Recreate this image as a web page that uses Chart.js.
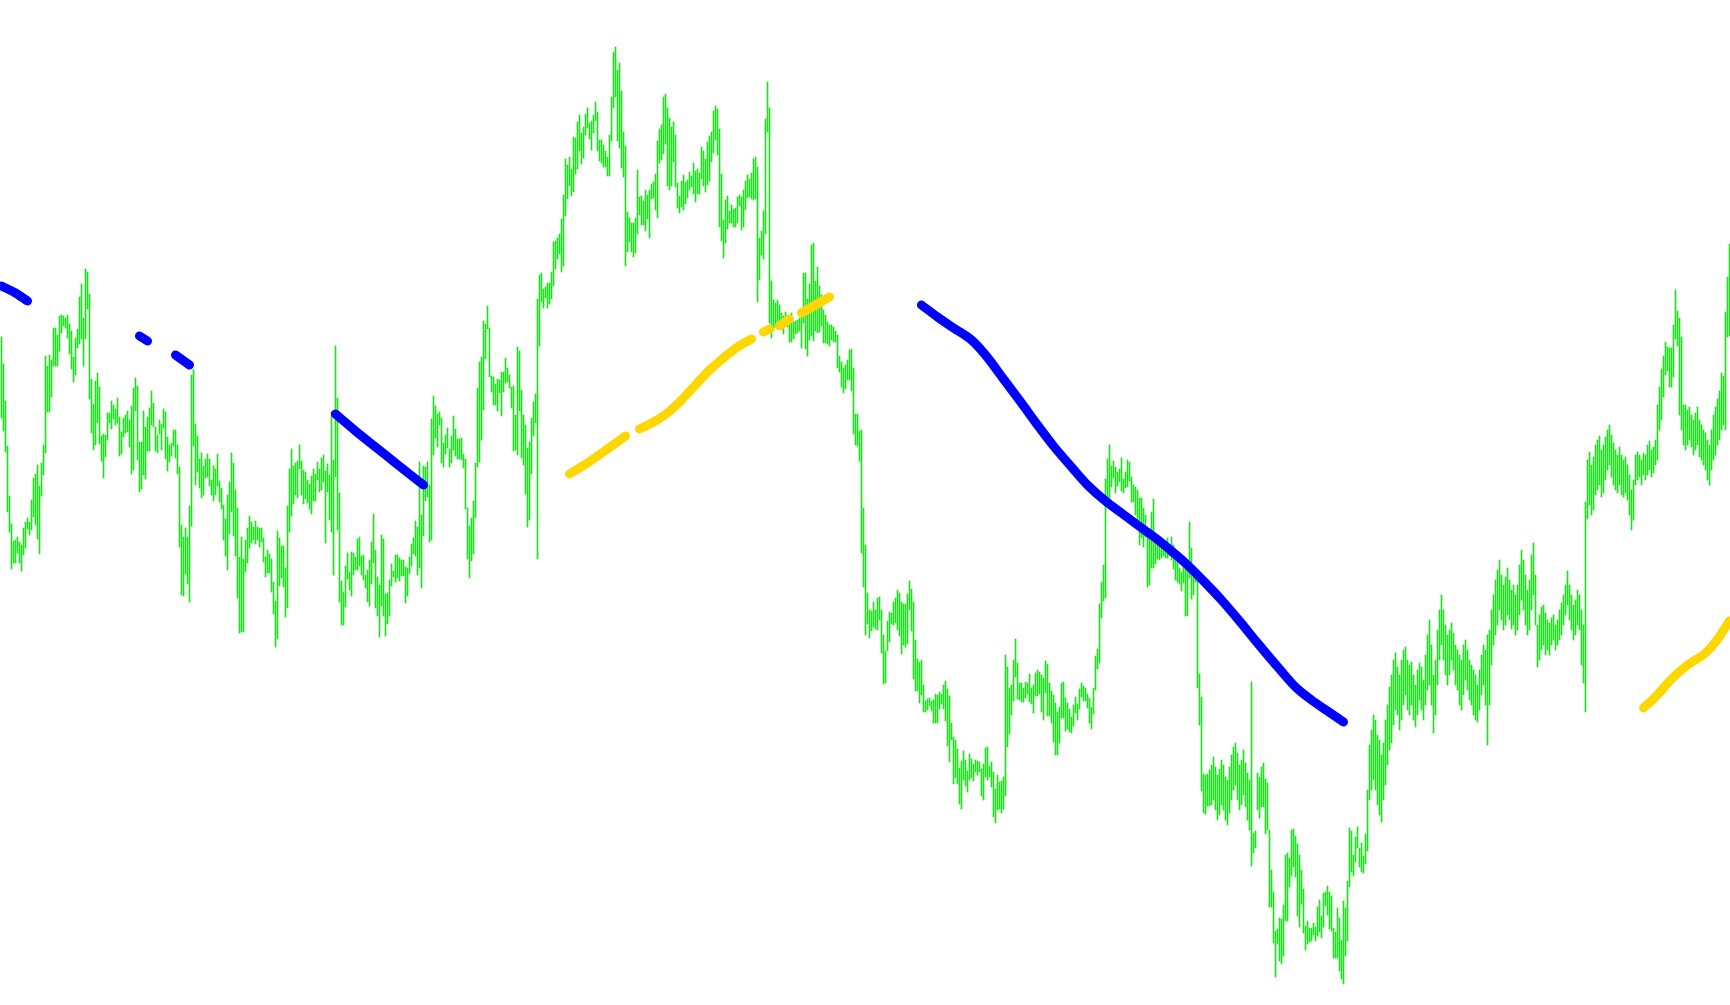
<!DOCTYPE html>
<html>
<head>
<meta charset="utf-8">
<title>chart</title>
<script src="https://cdn.jsdelivr.net/npm/chart.js@4"></script>
<style>
  html, body { margin: 0; padding: 0; background: #ffffff; overflow: hidden; }
  #caja { width: 1730px; height: 1005px; position: relative; }
</style>
</head>
<body>
<div id="caja"><canvas id="grafico"></canvas></div>
<script>
(function(){

//-----Rango de cada barra [minimo, maximo], una por vela
const barRanges = [
[587,668],[574,641],[553,604],[493,559],[473,509],[436,481],[442,464],[442,465],[452,468],[442,463],
[434,460],[450,477],[457,483],[476,487],[470,483],[475,505],[488,527],[480,531],[466,540],[451,519],
[509,542],[530,560],[552,649],[593,639],[593,650],[608,645],[639,677],[639,677],[639,670],[654,689],
[672,690],[679,689],[677,687],[667,690],[651,681],[636,674],[623,648],[630,667],[657,676],[661,708],
[666,721],[639,687],[666,736],[696,733],[606,711],[572,626],[555,601],[560,624],[582,632],[561,618],
[544,569],[527,571],[548,570],[565,592],[582,592],[576,604],[586,600],[580,596],[582,607],[549,588],
[551,573],[568,587],[572,590],[573,594],[558,585],[531,599],[535,617],[594,627],[545,619],[513,563],
[516,563],[530,594],[526,578],[554,588],[554,597],[580,614],[578,602],[554,578],[552,570],[571,585],
[555,581],[577,596],[546,593],[534,568],[543,560],[549,562],
[559,575],[547,575],[531,560],[458,538],[410,480],[409,468],[431,477],[421,468],[403,499],[479,630],
[559,636],[520,581],[533,569],[517,546],[507,552],[510,539],[527,546],[528,551],[519,546],[510,525],
[504,539],[510,536],[519,551],[503,524],[496,517],[465,500],[449,486],[435,510],[471,523],[493,552],
[469,542],[449,515],[407,497],[372,448],[373,468],[373,446],[433,465],[442,477],[457,489],[462,483],
[465,478],[461,484],[465,478],[458,477],[463,477],[443,467],[428,448],[432,455],[432,451],[413,446],
[391,423],[358,404],[366,474],[419,467],[427,459],[418,459],[388,437],[397,499],[473,536],[489,556],
[501,539],[510,542],[507,544],[536,560],[510,544],[501,535],[506,533],[502,525],[496,521],[491,529],
[504,536],[504,531],[525,543],[513,536],[515,547],[523,550],[462,534],[513,541],[485,530],[473,593],
[430,545],[528,659],[475,607],[403,512],[380,424],[380,413],[398,439],
[426,452],[415,433],[409,453],[430,452],[435,448],[435,466],[439,468],[430,449],[425,450],[417,430],
[403,435],[399,445],[421,463],[442,491],[397,455],[389,428],[368,420],[399,470],[389,466],[369,411],
[381,412],[389,425],[419,441],[428,434],[423,450],[427,450],[424,447],[429,445],[429,445],[402,438],
[409,437],[431,448],[439,461],[451,467],[449,484],[430,478],[437,543],[417,490],[469,539],[504,538],
[508,543],[463,520],[465,586],[550,609],[567,599],[558,591],[580,593],[542,587],[538,562],[551,570],
[557,577],[538,556],[542,569],[555,589],[549,576],[546,566],[546,566],[545,567],[537,551],[496,546],
[446,497],[427,479],[444,487],[451,504],[487,542],[538,617],[543,643],[565,648],[595,684],[646,681],
[676,699],[628,677],[613,629],[600,628],[600,621],[594,626],[612,625],[589,633],[613,633],[622,647],
[623,637],[617,630],[597,618],[554,619],[555,590],[550,658],
[594,654],[547,615],[540,590],[511,580],[478,557],[485,563],[531,587],[569,603],[582,611],[446,706],
[659,730],[703,732],[697,716],[707,718],[697,722],[701,722],[706,733],[719,763],[736,764],[746,767],
[751,771],[733,786],[739,810],[789,846],[806,840],[819,848],[809,836],[813,868],[831,867],[836,883],
[854,890],[841,872],[847,878],[870,891],[877,897],[866,882],[855,884],[872,890],[884,903],[854,893],
[844,865],[842,865],[838,860],[838,854],[829,848],[829,870],[864,908],[897,953],[908,958],[864,935],
[857,942],[837,914],[828,873],[739,859],[753,793],[763,787],[753,782],[748,782],[752,787],[771,835],
[790,808],[780,809],[780,804],[774,815],[786,810],[767,815],[806,821],[807,823],[795,831],[787,864],
[842,876],[845,880],[851,908],[861,911],[819,897],[815,887],[819,878],[843,883],[818,870],[797,822],
[792,809],[798,824],[795,830],[801,823],[807,825],[815,833],[818,829],
[811,842],[803,834],[811,836],[811,832],[826,858],[819,854],[813,846],[820,863],[824,869],[843,873],
[852,894],[865,899],[850,896],[778,876],[764,831],[747,785],[762,805],[776,809],[782,794],[782,800],
[778,796],[778,797],[782,808],[799,810],[775,808],[778,815],[795,824],[807,830],[808,826],[806,832],
[805,846],[806,848],[703,838],[725,767],[750,774],[746,794],[771,886],[873,923],[682,897],[667,724],
[674,705],[678,702],[682,705],[678,700],[682,692],[671,689],[680,693],[678,690],[663,689],[663,692],
[666,683],[671,684],[672,685],[674,687],[657,690],[682,732],[656,732],[649,706],[665,721],[669,760],
[664,762],[674,724],[672,738],[673,719],[679,710],[662,695],[662,690],[661,683],[659,680],[665,680],
[663,678],[663,674],[637,670],[633,649],[618,643],[612,637],[616,640],[625,645],[625,655],[614,656],
[571,637],[560,591],[559,591],[544,574],[452,575],[418,497],
[370,460],[381,412],[367,395],[374,394],[378,403],[376,395],[375,407],[385,408],[352,395],[321,370],
[322,354],[354,384],[363,393],[381,392],[380,403],[382,407],[375,415],[369,412],[351,403],[360,401],
[358,401],[361,411],[395,424],[374,416],[326,403],[314,365],[314,346],[302,343],[310,345],[293,320],
[293,304],[295,306],[299,307],[294,304],[282,305],[282,311],[282,310],[296,313],[301,311],[296,320],
[284,324],[259,316],[243,309],[265,282],[221,268],[227,265],[221,256],[201,237],[196,244],[225,254],
[219,245],[213,234],[225,251],[227,246],[224,241],[233,245],[230,244],[233,243],[209,236],[205,241],
[228,257],[225,258],[228,239],[218,243],[188,233],[182,216],[195,230],[196,223],[192,224],[196,228],
[209,350],[258,338],[271,317],[290,320],[304,345],[328,366],[306,342],[305,322],[303,322],[303,317],
[307,323],[311,322],[303,331],[301,317],[292,320],[309,332],[309,335],
[311,333],[293,330],[285,327],[312,344],[289,341],[289,322],[282,314],[263,310],[250,302],[250,293],
[262,298],[287,322],[287,323],[274,307],[276,302],[273,296],[272,288],[279,300],[292,308],[285,301],
[296,316],[308,322],[304,319],[304,317],[297,311],[282,307],[276,298],[291,317],[315,349],[336,356],
[342,401],[387,423],[404,440],[407,526],[498,546],[505,560],[518,539],[527,544],[512,538],[519,533],
[523,536],[514,547],[512,526],[517,533],[518,545],[524,543],[503,528],[503,520],[490,518],[482,515],
[460,507],[467,507],[458,497],[468,490],[418,476],[420,471],[437,493],[437,506],[441,467],[446,463],
[445,459],[447,457],[449,460],[447,462],[447,467],[449,457],[445,468],[436,460],[425,445],[423,446],
[421,437],[414,433],[422,445],[389,437],[389,437],[427,483],[406,457],[410,435],[423,428],[317,424],
[280,331],[214,308],[192,231],[191,230],[199,231],[199,235],
[200,240],[205,248],[195,238],[185,230],[190,236],[200,245],[195,240],[185,228],[180,225],[192,238],
[205,250],[215,258],[220,262],[205,252],[195,240],[200,245],[210,255],[198,242],[185,232],[175,225],
[139,323],[152,172],[157,174],[195,232],[187,228],[198,238],[198,242],[171,226],[175,222],
[98,175],[98,135],[62,113],[28,74],[61,76],[44,87],[41,86],[49,100],[84,150],[84,152],
[118,147],[129,175],[138,176],[128,169],[89,161],[78,150],[101,135],[72,116],[55,79],[61,84],
[63,77],[64,77],[70,82],[64,78],[69,98],[73,105],[67,89],[78,112],[99,113],[90,119],
[76,113],[74,109],[47,77],[47,73],[47,97],[34,87],[26,65],[21,104],[49,97],[64,124],
[118,177],[133,174],[129,150],[143,168],[157,178],[138,157],[133,162],[132,149],[141,171],[154,215],
[205,260],[215,275],[225,290],[215,285],[200,270],[190,265],[183,250],
[205,262],[220,285],[240,300],[255,318],[262,330],
[280,345],[295,352],[290,338],[275,330],[285,345],[300,355],[310,358],[295,345],
[290,340],[300,343],[285,330],[278,320],[290,335],[305,342],[295,338],[285,325],
[300,350],[315,370],[320,385],[300,360],[272,330],[290,345],[320,375],[345,395],[360,410],
[345,395],[330,380],[320,370],[330,375],[345,382],[335,372],[320,360],[315,355],
[300,350],[295,345],[310,360],[325,365],[315,355],[305,345],
[300,340],[290,335],[285,330],[283,320],[295,335],
[310,350],[320,360],[300,355],[260,370],[300,375],[340,395],
[360,410],[370,425],[380,435],[395,445],[385,430],
[375,420],[380,428],[390,437],[385,425],[376,415],[380,420],
[370,410],[375,420],[390,440],[405,455],[395,445],
[380,430],[370,415],[375,425],[395,450],[410,462],[380,430],
[338,380],[345,390],[355,398],[360,400],[350,392],
[355,385],[350,382],[360,387],[365,390],[355,380],[360,385],
[365,395],[370,402],[380,410],[390,420],[400,434],
[385,420],[375,410],[365,400],[370,405],[380,415],[375,410],
[340,395],[322,380],[293,503],
[486,545],[500,553],[490,540],[495,548],[510,560],
[515,565],[520,569],[508,555],[512,560],[525,568],
[535,575],[540,580],[528,570],[520,562],[515,555],[512,550],
[520,558],[510,550],[508,545],[512,548],[505,540],
[490,530],[475,515],[485,525],
[520,550],[525,553],[528,550],[520,545],[530,552],[525,550],
[530,560],[535,564],[528,555],[532,558],[540,565],[545,600],
[575,618],[585,636],[608,649],[630,663],[634,658],[618,657],[618,657],[628,680],[666,715],[659,694],
[590,687],[575,668],
[560,600],[555,600],[560,595],[565,598],[558,590],[550,585],[555,592],[560,598],[548,585],[545,580],
[540,575],[535,572],[525,565],[520,560],[535,575],[545,590],[550,598],
[560,606],[565,614],[575,632],[580,629],[575,693],[668,728],[669,761]
];

//-----Tramos de la linea azul (indice de vela, valor)
const blueX = [
  [0, 7, 13],
  [69, 73],
  [87, 94],
  [167, 177, 187, 197, 211],
  [460, 468, 476, 485, 492, 501, 510, 518, 526, 535, 543, 552, 560, 568, 577, 585, 593, 602, 610, 619, 628, 639, 647, 655, 663, 671]
];
const blueY = [
  [719, 712, 704],
  [669, 664],
  [650, 640],
  [591, 574, 558, 542, 520],
  [700, 688, 677, 665, 650, 626, 602, 580, 559, 538, 520, 504, 492, 480, 467, 454, 440, 422, 405, 384, 362, 336, 318, 305, 294, 283]
];

//-----Tramos de la linea amarilla
const yellowX = [
  [284, 293, 303, 312],
  [319, 326, 333, 340, 347, 354, 361, 368, 375],
  [381, 384],
  [389, 394],
  [400, 407, 414],
  [821, 827, 835, 843, 852, 857, 864]
];
const yellowY = [
  [531, 542, 556, 569],
  [576, 583, 592, 605, 620, 635, 647, 658, 666],
  [673, 676],
  [679, 686],
  [692, 700, 708],
  [297, 308, 326, 340, 352, 363, 384]
];

//-----Se arma la lista de puntos con un null entre tramos para cortar la linea
function tramos(xs, ys){
  let out = [];
  xs.forEach((seg, k) => {
    seg.forEach((x, j) => out.push({x: x, y: ys[k][j]}));
    out.push({x: seg[seg.length - 1] + 0.5, y: null});
  });
  return out;
}

const barras = barRanges.map((r, i) => ({x: i, y: r}));

const ctx = document.querySelector("#grafico");

const estiloLinea = {
  type: 'line',
  borderWidth: 9,
  borderCapStyle: 'round',
  borderJoinStyle: 'round',
  cubicInterpolationMode: 'monotone',
  pointRadius: 0,
  spanGaps: false
};

let myChart = new Chart(ctx, {
  type: 'bar',
  data: {
    datasets: [
      Object.assign({}, estiloLinea, {
        data: tramos(blueX, blueY),
        borderColor: '#0000ff',
        order: 0
      }),
      Object.assign({}, estiloLinea, {
        data: tramos(yellowX, yellowY),
        borderColor: '#ffd700',
        order: 1
      }),
      {
        type: 'bar',
        data: barras,
        backgroundColor: '#1ee01e',
        borderWidth: 0,
        barThickness: 1,
        order: 2
      }
    ]
  },
  options: {
    responsive: true,
    maintainAspectRatio: false,
    devicePixelRatio: 1,
    animation: false,
    layout: { padding: 0 },
    plugins: {
      legend: { display: false },
      tooltip: { enabled: false }
    },
    scales: {
      x: {
        type: 'linear',
        display: false,
        offset: false,
        min: -0.75,
        max: 864.25
      },
      y: {
        display: false,
        min: 0,
        max: 1005
      }
    }
  }
});

})();
</script>
</body>
</html>
